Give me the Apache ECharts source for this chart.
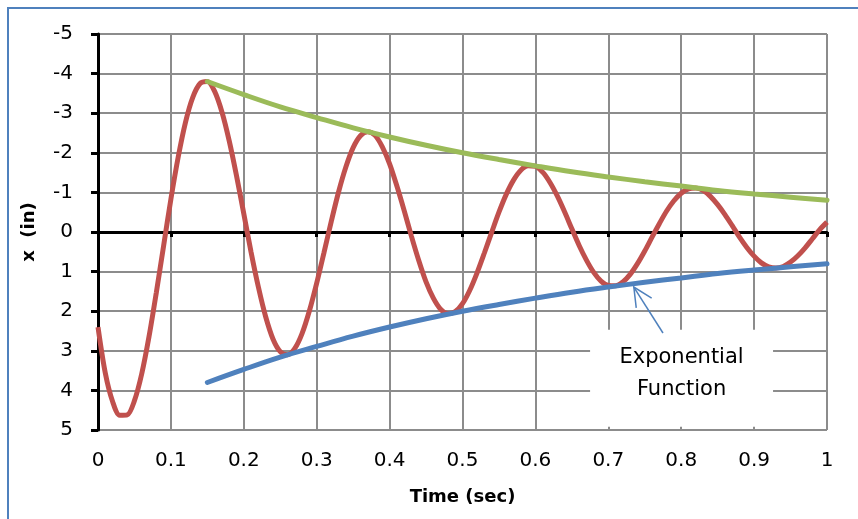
<!DOCTYPE html>
<html>
<head>
<meta charset="utf-8">
<script src="https://cdn.jsdelivr.net/npm/echarts@6/dist/echarts.min.js"></script>
<style>
html,body{margin:0;padding:0;background:#fff;}
#chart{width:858px;height:519px;}
</style>
</head>
<body>
<div id="chart"></div>
<script>
// ---- data ----
const xTicks = [0, 0.1, 0.2, 0.3, 0.4, 0.5, 0.6, 0.7, 0.8, 0.9, 1];
const yTicks = [-5, -4, -3, -2, -1, 0, 1, 2, 3, 4, 5];
const redStep = 0.01;
const redValues = [
  2.40, 3.56, 4.28, 4.63, 4.62, 4.26, 3.58, 2.64, 1.53, 0.35,
  -0.83, -1.89, -2.77, -3.40, -3.75, -3.80, -3.55, -3.03, -2.30, -1.42,
  -0.46, 0.51, 1.39, 2.14, 2.70, 3.02, 3.10, 2.94, 2.56, 1.99,
  1.29, 0.52, -0.27, -1.01, -1.64, -2.13, -2.43, -2.53, -2.44, -2.15,
  -1.72, -1.16, -0.54, 0.11, 0.72, 1.26, 1.67, 1.95, 2.06, 2.01,
  1.81, 1.47, 1.03, 0.53, 0.01, -0.50, -0.95, -1.31, -1.56, -1.67,
  -1.66, -1.51, -1.25, -0.91, -0.51, -0.08, 0.34, 0.71, 1.02, 1.24,
  1.35, 1.36, 1.26, 1.07, 0.80, 0.48, 0.13, -0.21, -0.53, -0.79,
  -0.98, -1.09, -1.11, -1.05, -0.90, -0.69, -0.44, -0.16, 0.13, 0.39,
  0.61, 0.78, 0.88, 0.91, 0.87, 0.76, 0.60, 0.40, 0.17, -0.06,
  -0.25
];
const envTimes = [0.15, 0.2, 0.25, 0.3, 0.35, 0.4, 0.45, 0.5, 0.55, 0.6, 0.65, 0.7, 0.75, 0.8, 0.85, 0.9, 0.95, 1.0];
const blueValues = [3.80, 3.47, 3.16, 2.89, 2.63, 2.40, 2.19, 2.00, 1.83, 1.67, 1.52, 1.39, 1.27, 1.16, 1.05, 0.96, 0.88, 0.80];
const greenValues = [-3.80, -3.47, -3.16, -2.89, -2.63, -2.40, -2.19, -2.00, -1.83, -1.67, -1.52, -1.39, -1.27, -1.16, -1.05, -0.96, -0.88, -0.80];
const annotationText = ['Exponential', 'Function'];
// annotation anchors in data units
const annoBox = { t0: 0.675, t1: 0.926, y0: 2.47, y1: 4.92 };
const arrowTail = [0.775, 2.55];
const arrowTip = [0.735, 1.39];

const FONT = '"DejaVu Sans", Verdana, sans-serif';
const redData = redValues.map((v, i) => [+(i * redStep).toFixed(2), v]);
const blueData = envTimes.map((t, i) => [t, blueValues[i]]);
const greenData = envTimes.map((t, i) => [t, greenValues[i]]);

const chart = echarts.init(document.getElementById('chart'), null, { renderer: 'canvas' });
const option = {
  backgroundColor: '#fff',
  animation: false,
  grid: { left: 98, right: 31, top: 34, bottom: 89 },
  xAxis: [
    {
      type: 'value', min: xTicks[0], max: xTicks[xTicks.length - 1], interval: 0.1,
      position: 'bottom',
      axisLine: { show: false, onZero: false },
      axisTick: { show: false },
      axisLabel: { show: true, margin: 21, color: '#000', fontSize: 20, fontFamily: FONT,
        formatter: v => String(+v.toFixed(1)) },
      splitLine: { show: true, lineStyle: { color: '#8c8c8c', width: 2 } },
      name: 'Time (sec)', nameLocation: 'middle', nameGap: 58,
      nameTextStyle: { color: '#000', fontSize: 18, fontWeight: 'bold', fontFamily: FONT }
    },
    {
      type: 'value', min: xTicks[0], max: xTicks[xTicks.length - 1], interval: 0.1,
      position: 'bottom',
      axisLine: { show: true, onZero: true, lineStyle: { color: '#000', width: 3 } },
      axisTick: { show: true, inside: false, length: 5, lineStyle: { color: '#000', width: 3 } },
      axisLabel: { show: false },
      splitLine: { show: false }
    }
  ],
  yAxis: {
    type: 'value', inverse: true, min: yTicks[0], max: yTicks[yTicks.length - 1], interval: 1,
    axisLine: { show: true, onZero: false, lineStyle: { color: '#000', width: 3 } },
    axisTick: { show: true, inside: false, length: 7, lineStyle: { color: '#000', width: 3 } },
    axisLabel: { margin: 25, color: '#000', fontSize: 20, fontFamily: FONT },
    splitLine: { show: true, lineStyle: { color: '#8c8c8c', width: 2 } },
    name: 'x  (in)', nameLocation: 'middle', nameGap: 60, nameRotate: 90,
    nameTextStyle: { color: '#000', fontSize: 18, fontWeight: 'bold', fontFamily: FONT }
  },
  series: [
    { type: 'line', name: 'Displacement', data: redData, xAxisIndex: 0, smooth: 0.3, showSymbol: false,
      lineStyle: { color: '#C0504D', width: 5 }, z: 3 },
    { type: 'line', name: 'Lower envelope', data: blueData, xAxisIndex: 0, smooth: 0.4, showSymbol: false,
      lineStyle: { color: '#4F81BD', width: 5, cap: 'round' }, z: 4 },
    { type: 'line', name: 'Upper envelope', data: greenData, xAxisIndex: 0, smooth: 0.4, showSymbol: false,
      lineStyle: { color: '#9BBB59', width: 5, cap: 'round' }, z: 4 }
  ]
};
chart.setOption(option);

function px(p) { return chart.convertToPixel({ gridIndex: 0 }, p); }
const b0 = px([annoBox.t0, annoBox.y0]);
const b1 = px([annoBox.t1, annoBox.y1]);
const tail = px(arrowTail);
const tip = px(arrowTip);
const ang = Math.atan2(tail[1] - tip[1], tail[0] - tip[0]);
const headLen = 21, headSpread = 0.45;
const h1 = [tip[0] + headLen * Math.cos(ang + headSpread), tip[1] + headLen * Math.sin(ang + headSpread)];
const h2 = [tip[0] + headLen * Math.cos(ang - headSpread), tip[1] + headLen * Math.sin(ang - headSpread)];
const cx = (b0[0] + b1[0]) / 2;

chart.setOption({
  graphic: [
    { type: 'rect', z: 1, silent: true,
      shape: { x: 8, y: 8, width: 1000, height: 1000 },
      style: { fill: 'none', stroke: '#4F81BD', lineWidth: 2 } },
    { type: 'rect', z: 1, silent: true,
      shape: { x: b0[0], y: b0[1], width: b1[0] - b0[0], height: b1[1] - b0[1] },
      style: { fill: '#fff' } },
    { type: 'text', z: 5, silent: true, x: cx, y: b0[1] + 28,
      style: { text: annotationText[0], fill: '#000', font: '21px ' + FONT, align: 'center', verticalAlign: 'middle' } },
    { type: 'text', z: 5, silent: true, x: cx, y: b0[1] + 60,
      style: { text: annotationText[1], fill: '#000', font: '21px ' + FONT, align: 'center', verticalAlign: 'middle' } },
    { type: 'line', z: 5, silent: true, shape: { x1: tail[0], y1: tail[1], x2: tip[0], y2: tip[1] },
      style: { stroke: '#4F81BD', lineWidth: 1.5 } },
    { type: 'polyline', z: 5, silent: true, shape: { points: [h1, tip, h2] },
      style: { stroke: '#4F81BD', lineWidth: 1.5, fill: 'none' } }
  ]
});
</script>
</body>
</html>
